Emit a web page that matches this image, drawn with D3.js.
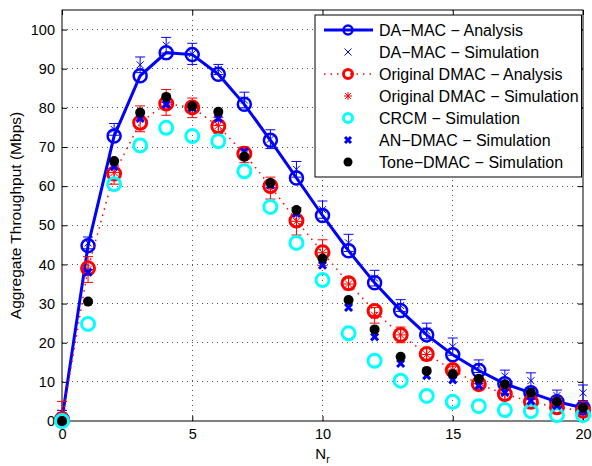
<!DOCTYPE html>
<html><head><meta charset="utf-8">
<script src="https://cdn.jsdelivr.net/npm/d3@7"></script>
<style>body{margin:0;background:#fff}svg{display:block}text{font-family:"Liberation Sans",Arial,Helvetica,sans-serif}</style>
</head><body><svg id="c" width="592" height="466"></svg>
<script>
const xs = [0,1,2,3,4,5,6,7,8,9,10,11,12,13,14,15,16,17,18,19,20];
const daAnalysis = [0.5,44.8,72.8,88.2,94.1,93.6,88.6,80.9,71.7,62.1,52.5,43.5,35.3,28.2,22.0,16.9,12.9,9.5,7.2,4.9,3.4];
const daSim = [1.2,45.5,74.5,91,96,93.8,89.8,82,72,64.3,54,45.5,36.5,29.5,23,19,14,11.5,10.3,6.5,7.2];
const daErr = [1.5,1.5,1.5,2,2,2.7,1.3,2,2.4,2,2.2,2.2,2,1.5,2,2.2,1.6,1.5,2,1.4,2];
const dmacAnalysis = [0.3,39.0,63.2,76.2,81.1,80.1,75.3,68.3,60.0,51.2,43.1,35.2,28.1,22.0,17.1,13.0,9.4,6.9,4.9,3.5,2.6];
const dmacSim = [2,38.7,63.5,77.2,81.4,80,75.5,68,59.5,51,43,35,27,22,17,13,9.5,7,5.5,4.5,3.5];
const dmacErr = [3,3.3,3,3.3,3.3,2.5,2,2,2.8,3.5,3.3,1.5,2,2,1.5,1,1.5,1.5,1.5,1.5,1.5];
const crcm = [0,24.8,60.5,70.4,74.9,72.8,71.5,63.8,54.7,45.5,36.0,22.4,15.4,10.3,6.4,4.9,3.8,2.8,2.5,1.5,1.5];
const anDmac = [0,38,65,77.3,80.9,80,77.3,68.8,60.3,53,39.8,29.0,21.5,14.7,11.6,10.5,9.0,7.3,5.1,3.9,2.8];
const toneDmac = [0,30.5,66.4,78.8,82.8,80.4,79.0,67.5,60.8,53.9,41.5,30.9,23.4,16.4,12.8,12.0,10.8,9.4,7.2,4.9,3.4];
const xTicks = [0,5,10,15,20];
const yTicks = [0,10,20,30,40,50,60,70,80,90,100];
const legendLabels = ["DA\u2212MAC \u2212 Analysis","DA\u2212MAC \u2212 Simulation","Original DMAC \u2212 Analysis","Original DMAC \u2212 Simulation","CRCM \u2212 Simulation","AN\u2212DMAC \u2212 Simulation","Tone\u2212DMAC \u2212 Simulation"];

const svg = d3.select("#c");
const L=62,R=583,T=10,B=421;
const x = d3.scaleLinear().domain([0,20]).range([L,R]);
const y = d3.scaleLinear().domain([0,105]).range([B,T]);

// grid
const g = svg.append("g");
g.selectAll(".gy").data(yTicks.filter(v=>v>0)).enter().append("line")
 .attr("x1",L).attr("x2",R).attr("y1",d=>y(d)).attr("y2",d=>y(d))
 .attr("stroke","#555").attr("stroke-width",1).attr("stroke-dasharray","1,4").attr("shape-rendering","crispEdges");
g.selectAll(".gx").data(xTicks.filter(v=>v>0&&v<20)).enter().append("line")
 .attr("y1",T).attr("y2",B).attr("x1",d=>x(d)).attr("x2",d=>x(d))
 .attr("stroke","#555").attr("stroke-width",1).attr("stroke-dasharray","1,4").attr("shape-rendering","crispEdges");

// axes
const ax = svg.append("g").attr("transform",`translate(0,${B})`)
 .call(d3.axisBottom(x).tickValues(xTicks).tickSize(-5).tickPadding(8).tickFormat(d3.format("d")));
const ay = svg.append("g").attr("transform",`translate(${L},0)`)
 .call(d3.axisLeft(y).tickValues(yTicks).tickSize(-5).tickPadding(7).tickFormat(d3.format("d")));
const axT = svg.append("g").attr("transform",`translate(0,${T})`)
 .call(d3.axisTop(x).tickValues(xTicks).tickSize(-5).tickFormat(""));
const ayR = svg.append("g").attr("transform",`translate(${R},0)`)
 .call(d3.axisRight(y).tickValues(yTicks).tickSize(-5).tickFormat(""));
[ax,ay,axT,ayR].forEach(a=>{a.select(".domain").remove();a.selectAll("line").attr("stroke","#000");a.selectAll("text").attr("font-size",14.5).attr("fill","#000").style("font-family","'Liberation Sans',Arial,sans-serif");});
svg.append("rect").attr("x",L).attr("y",T).attr("width",R-L).attr("height",B-T).attr("fill","none").attr("stroke","#000").attr("stroke-width",1);

const plot = svg.append("g");
const line = (arr)=>d3.line().x((d,i)=>x(xs[i])).y(d=>y(d))(arr);

function errbars(vals, errs, color){
  const eg = plot.append("g").attr("stroke",color).attr("stroke-width",1).attr("fill","none");
  vals.forEach((v,i)=>{
    const cx=x(xs[i]), y1=y(v-errs[i]), y2=y(v+errs[i]);
    eg.append("line").attr("x1",cx).attr("x2",cx).attr("y1",y1).attr("y2",y2);
    eg.append("line").attr("x1",cx-5).attr("x2",cx+5).attr("y1",y1).attr("y2",y1);
    eg.append("line").attr("x1",cx-5).attr("x2",cx+5).attr("y1",y2).attr("y2",y2);
  });
}
function markX(gr,cx,cy,s,color,w){
  gr.append("path").attr("d",`M${cx-s},${cy-s}L${cx+s},${cy+s}M${cx-s},${cy+s}L${cx+s},${cy-s}`).attr("stroke",color).attr("stroke-width",w).attr("fill","none");
}
function markStar(gr,cx,cy,s,color){
  const d=s*0.72;
  gr.append("path").attr("d",`M${cx-s},${cy}L${cx+s},${cy}M${cx},${cy-s}L${cx},${cy+s}M${cx-d},${cy-d}L${cx+d},${cy+d}M${cx-d},${cy+d}L${cx+d},${cy-d}`).attr("stroke",color).attr("stroke-width",1).attr("fill","none");
}

// DA-MAC analysis
plot.append("path").attr("d",line(daAnalysis)).attr("stroke","#0000ff").attr("stroke-width",3).attr("fill","none");
plot.selectAll(".da").data(daAnalysis).enter().append("circle").attr("cx",(d,i)=>x(xs[i])).attr("cy",d=>y(d)).attr("r",6.5).attr("fill","none").attr("stroke","#0000ff").attr("stroke-width",2.5);
// DA-MAC sim
errbars(daSim,daErr,"#0000ff");
const gds = plot.append("g");
daSim.forEach((v,i)=>markX(gds,x(xs[i]),y(v),3.5,"#0000ff",1));
// Original DMAC analysis
plot.append("path").attr("d",line(dmacAnalysis)).attr("stroke","#ff0000").attr("stroke-width",1.5).attr("stroke-dasharray","1.5,5").attr("fill","none");
plot.selectAll(".dm").data(dmacAnalysis).enter().append("circle").attr("cx",(d,i)=>x(xs[i])).attr("cy",d=>y(d)).attr("r",6.5).attr("fill","none").attr("stroke","#ff0000").attr("stroke-width",3);
// Original DMAC sim
errbars(dmacSim,dmacErr,"#ff0000");
const gms = plot.append("g");
dmacSim.forEach((v,i)=>markStar(gms,x(xs[i]),y(v),5,"#ff0000"));
// CRCM
plot.selectAll(".cr").data(crcm).enter().append("circle").attr("cx",(d,i)=>x(xs[i])).attr("cy",d=>y(d)).attr("r",6.5).attr("fill","none").attr("stroke","#00ffff").attr("stroke-width",3);
// AN-DMAC
const gan = plot.append("g");
anDmac.forEach((v,i)=>markX(gan,x(xs[i]),y(v),3.5,"#0000ff",3));
// Tone-DMAC
plot.selectAll(".td").data(toneDmac).enter().append("circle").attr("cx",(d,i)=>x(xs[i])).attr("cy",d=>y(d)).attr("r",5).attr("fill","#000");

// labels
svg.append("text").attr("transform",`translate(21,${(T+B)/2}) rotate(-90)`).attr("text-anchor","middle").attr("font-size",15.5).text("Aggregate Throughput (Mbps)");
const xl = svg.append("text").attr("x",x(10)).attr("y",459).attr("text-anchor","middle").attr("font-size",15);
xl.append("tspan").text("N");
xl.append("tspan").attr("font-size",10.5).attr("dy",4).text("r");

// legend
const lg = svg.append("g");
lg.append("rect").attr("x",315).attr("y",15).attr("width",266.5).attr("height",162).attr("fill","#fff").attr("stroke","#000").attr("stroke-width",1);
legendLabels.forEach((t,i)=>{
  const ly = 30 + i*22;
  const mx = 348;
  if(i===0){
    lg.append("line").attr("x1",324).attr("x2",373).attr("y1",ly).attr("y2",ly).attr("stroke","#0000ff").attr("stroke-width",3);
    lg.append("circle").attr("cx",mx).attr("cy",ly).attr("r",4.5).attr("fill","none").attr("stroke","#0000ff").attr("stroke-width",2.5);
  } else if(i===1){ markX(lg,mx,ly,3.5,"#0000ff",1); }
  else if(i===2){
    lg.append("line").attr("x1",324).attr("x2",373).attr("y1",ly).attr("y2",ly).attr("stroke","#ff0000").attr("stroke-width",1.5).attr("stroke-dasharray","1.5,5");
    lg.append("circle").attr("cx",mx).attr("cy",ly).attr("r",4.5).attr("fill","none").attr("stroke","#ff0000").attr("stroke-width",3);
  } else if(i===3){ markStar(lg,mx,ly,4,"#ff0000"); }
  else if(i===4){ lg.append("circle").attr("cx",mx).attr("cy",ly).attr("r",4.5).attr("fill","none").attr("stroke","#00ffff").attr("stroke-width",3); }
  else if(i===5){ markX(lg,mx,ly,3,"#0000ff",3); }
  else { lg.append("circle").attr("cx",mx).attr("cy",ly).attr("r",4.5).attr("fill","#000"); }
  lg.append("text").attr("x",379).attr("y",ly+5.5).attr("font-size",16).text(t);
});
</script></body></html>
